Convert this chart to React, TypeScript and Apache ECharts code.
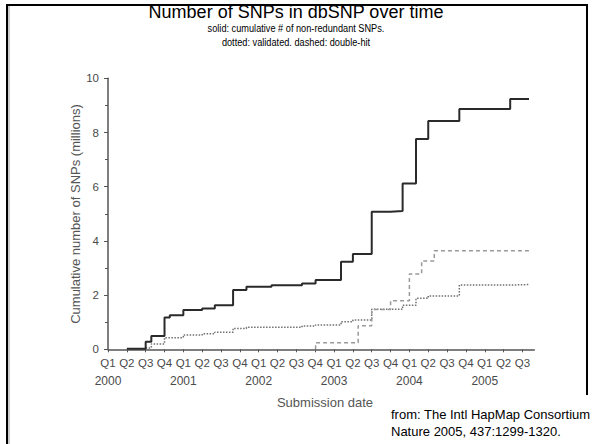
import React, { useEffect, useRef } from "react";
import * as echarts from "echarts";

// quarter index: 0 = Q1 2000
const quarterLabels = ["Q1", "Q2", "Q3", "Q4"];
const yearLabels = ["2000", "2001", "2002", "2003", "2004", "2005"];
const yTicks = [0, 2, 4, 6, 8, 10];

const solidX = [1, 2, 2.3, 3, 3.28, 4, 5, 5.67, 6.64, 7.35, 8.68, 10.3, 11.02, 12.37, 13, 14, 15, 15.64, 16.35, 17, 18.65, 21.35, 22.35];
const solidY = [0.02, 0.28, 0.49, 1.17, 1.26, 1.45, 1.51, 1.63, 2.19, 2.31, 2.36, 2.43, 2.56, 3.23, 3.52, 5.08, 5.1, 6.12, 7.76, 8.42, 8.87, 9.24, 9.24];

const dottedX = [2, 2.3, 3, 4, 5, 5.67, 6.64, 7.35, 10.3, 11.02, 12.37, 13, 14, 15.64, 16.35, 17, 18.65, 21.35, 22.35];
const dottedY = [0.05, 0.2, 0.43, 0.53, 0.57, 0.63, 0.77, 0.81, 0.86, 0.9, 1.02, 1.08, 1.48, 1.63, 1.88, 1.97, 2.37, 2.39, 2.39];

const dashedX = [11.02, 11.02, 13.28, 14, 15, 16, 16.65, 17.32, 22.35];
const dashedY = [0, 0.24, 0.87, 1.47, 1.79, 2.78, 3.26, 3.64, 3.64];

const zip = (xs: number[], ys: number[]) => xs.map((x, i) => [x, ys[i]]);

const FONT = "'Liberation Sans', Arial, sans-serif";
const AXIS_GREY = "#555555";
const LABEL_GREY = "#4a4a4a";

export default function App() {
  const ref = useRef<HTMLDivElement>(null);
  useEffect(() => {
    if (!ref.current) return;
    const chart = echarts.init(ref.current, undefined, { renderer: "svg" });
    const xMax = 22.63;
    const axisCommon = {
      type: "value" as const,
      min: 0,
      max: xMax,
      interval: 1,
      splitLine: { show: false },
    };
    chart.setOption({
      animation: false,
      backgroundColor: "#fff",
      grid: { left: 108, right: 57.7, top: 78.3, bottom: 94.7, containLabel: false },
      xAxis: [
        {
          ...axisCommon,
          position: "bottom",
          axisLine: { show: true, lineStyle: { color: AXIS_GREY, width: 1.5 } },
          axisTick: { show: true, length: 3, lineStyle: { color: AXIS_GREY } },
          axisLabel: {
            color: LABEL_GREY,
            fontFamily: FONT,
            fontSize: 11.5,
            margin: 8,
            showMaxLabel: false,
            formatter: (v: number) => (Number.isInteger(v) ? quarterLabels[v % 4] : ""),
          },
        },
        {
          ...axisCommon,
          position: "bottom",
          axisLine: { show: false },
          axisTick: { show: false },
          axisLabel: {
            color: LABEL_GREY,
            fontFamily: FONT,
            fontSize: 12,
            margin: 26,
            showMaxLabel: false,
            formatter: (v: number) =>
              Number.isInteger(v) && v % 4 === 0 ? yearLabels[v / 4] ?? "" : "",
          },
        },
      ],
      yAxis: {
        type: "value",
        min: 0,
        max: 10,
        interval: 2,
        splitLine: { show: false },
        axisLine: { show: true, lineStyle: { color: AXIS_GREY, width: 1.5 } },
        axisTick: { show: true, length: 4, lineStyle: { color: AXIS_GREY } },
        minorTick: { show: true, splitNumber: 2, length: 3, lineStyle: { color: AXIS_GREY } },
        axisLabel: {
          color: LABEL_GREY,
          fontFamily: FONT,
          fontSize: 11.5,
          margin: 9,
          formatter: (v: number) => (yTicks.includes(v) ? String(v) : ""),
        },
      },
      series: [
        {
          type: "line",
          step: "end",
          data: zip(dottedX, dottedY),
          showSymbol: false,
          lineStyle: { color: "#707070", width: 1.5, type: [1.5, 1.5] },
        },
        {
          type: "line",
          step: "end",
          data: zip(dashedX, dashedY),
          showSymbol: false,
          lineStyle: { color: "#9a9a9a", width: 1.5, type: [4, 3] },
        },
        {
          type: "line",
          step: "end",
          data: zip(solidX, solidY),
          showSymbol: false,
          lineStyle: { color: "#2a2a2a", width: 2 },
        },
      ],
      graphic: [
        { type: "line", shape: { x1: 6, y1: 5, x2: 588, y2: 5 }, style: { stroke: "#000", lineWidth: 2 } },
        { type: "line", shape: { x1: 7, y1: 4, x2: 7, y2: 444 }, style: { stroke: "#000", lineWidth: 2 } },
        { type: "line", shape: { x1: 9, y1: 6, x2: 9, y2: 444 }, style: { stroke: "#999", lineWidth: 1 } },
        { type: "line", shape: { x1: 587, y1: 4, x2: 587, y2: 395 }, style: { stroke: "#000", lineWidth: 2 } },
        {
          type: "text",
          x: 296,
          y: 12,
          style: { text: "Number of SNPs in dbSNP over time", fill: "#000", font: `18px ${FONT}`, align: "center", verticalAlign: "middle" },
        },
        {
          type: "text",
          x: 296,
          y: 28,
          scaleX: 0.8,
          style: { text: "solid: cumulative # of non-redundant SNPs.", fill: "#000", font: `11.5px ${FONT}`, align: "center", verticalAlign: "middle" },
        },
        {
          type: "text",
          x: 296,
          y: 42,
          scaleX: 0.8,
          style: { text: "dotted: validated. dashed: double-hit", fill: "#000", font: `11.5px ${FONT}`, align: "center", verticalAlign: "middle" },
        },
        {
          type: "text",
          x: 75,
          y: 214,
          rotation: Math.PI / 2,
          style: { text: "Cumulative number of SNPs (millions)", fill: "#555", font: `13px ${FONT}`, align: "center", verticalAlign: "middle" },
        },
        {
          type: "text",
          x: 325,
          y: 402,
          style: { text: "Submission date", fill: "#555", font: `13px ${FONT}`, align: "center", verticalAlign: "middle" },
        },
        {
          type: "text",
          x: 391,
          y: 414,
          style: { text: "from: The Intl HapMap Consortium", fill: "#000", font: `13px ${FONT}`, align: "left", verticalAlign: "middle" },
        },
        {
          type: "text",
          x: 391,
          y: 431,
          style: { text: "Nature 2005, 437:1299-1320.", fill: "#000", font: `13px ${FONT}`, align: "left", verticalAlign: "middle" },
        },
      ],
    });
    return () => chart.dispose();
  }, []);
  return <div ref={ref} style={{ width: 592, height: 444, position: "absolute", left: 0, top: 0 }} />;
}
